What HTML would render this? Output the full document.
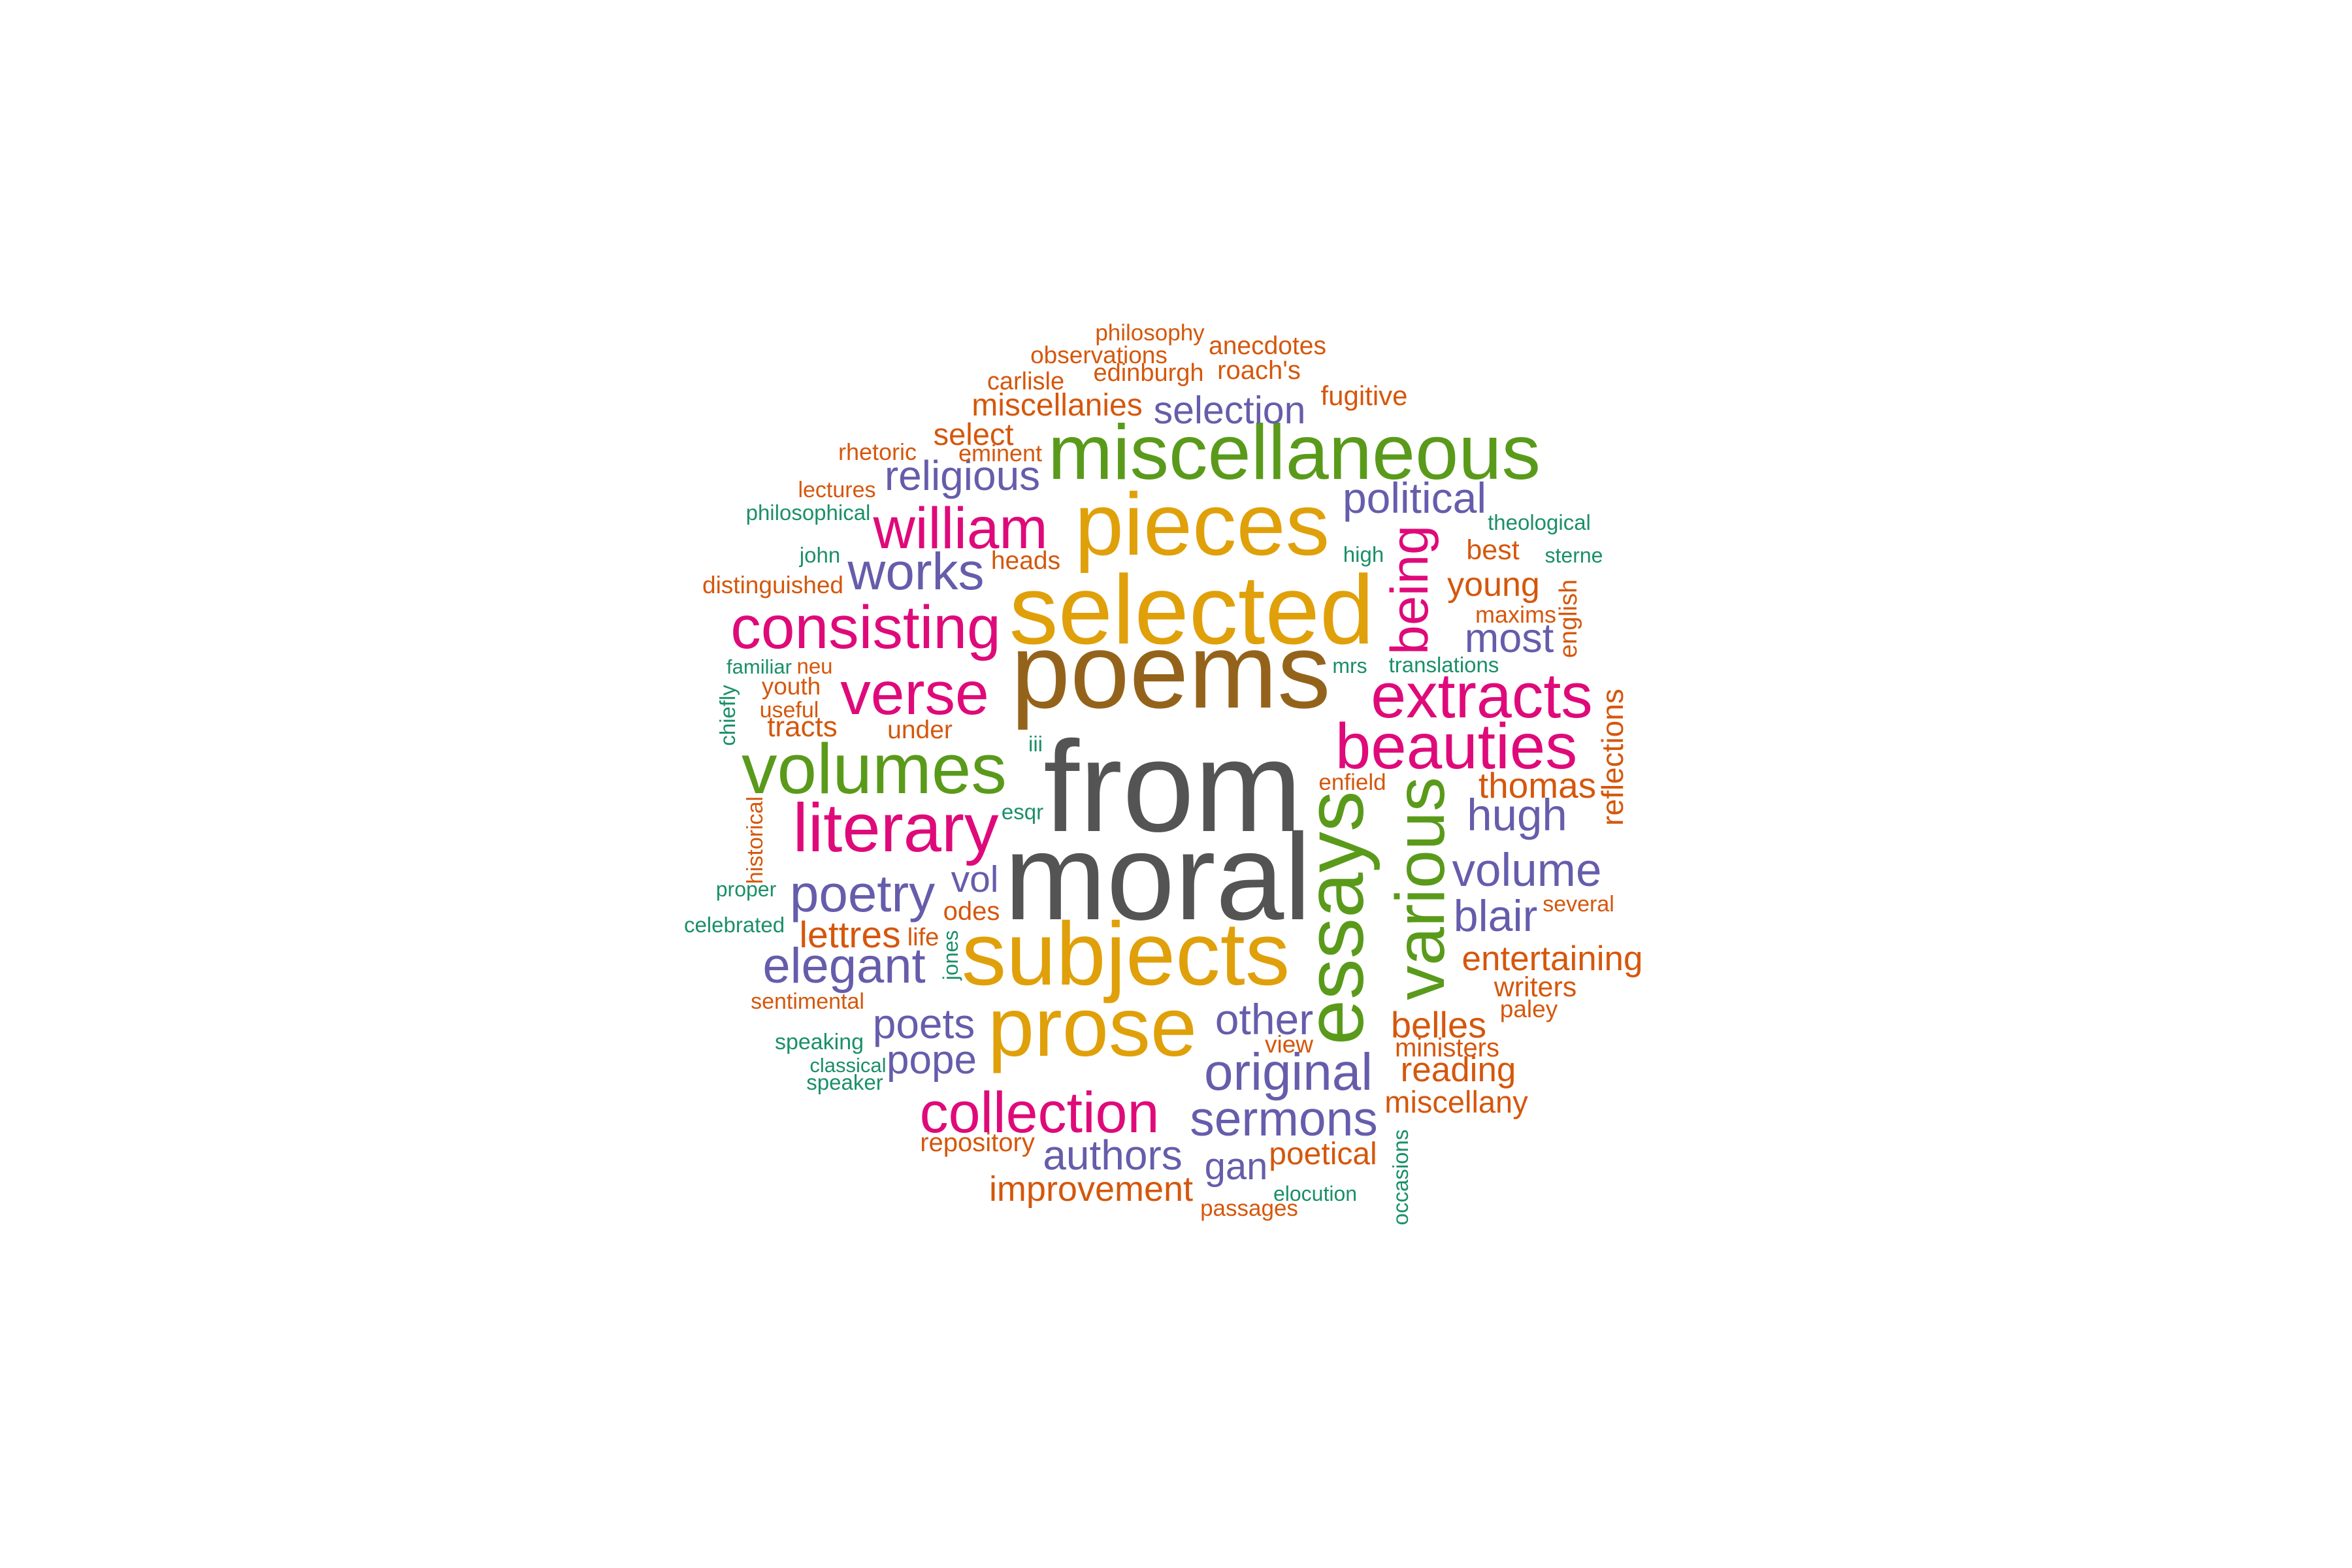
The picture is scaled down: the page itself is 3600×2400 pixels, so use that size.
<!DOCTYPE html>
<html>
<head>
<meta charset="utf-8">
<style>
  html, body { margin: 0; padding: 0; background: #ffffff; }
  #cloud { display: block; }
  text { font-family: "Liberation Sans", Arial, sans-serif; }
</style>
</head>
<body>
<svg id="cloud" width="3600" height="2400" viewBox="0 0 3600 2400" xmlns="http://www.w3.org/2000/svg">
  <rect x="0" y="0" width="3600" height="2400" fill="#ffffff"/>
  <g id="words"></g>
</svg>
<script>
// Data: words and their relative weights (font size in px at 3600x2400), colour group
const words = ["from","moral","poems","selected","pieces","miscellaneous","subjects","prose","essays","various",
"being","volumes","literary","consisting","william","verse","extracts","beauties","collection","works",
"religious","selection","political","poetry","elegant","poets","pope","vol","other","original",
"sermons","gan","authors","hugh","volume","blair","most","young","best","thomas",
"entertaining","writers","paley","several","reflections","english","maxims","theological","sterne","translations",
"mrs","high","enfield","belles","ministers","reading","miscellany","occasions","view","poetical",
"elocution","passages","improvement","repository","lettres","odes","life","jones","sentimental","speaking",
"classical","speaker","celebrated","proper","historical","esqr","iii","under","tracts","useful",
"youth","neu","familiar","chiefly","distinguished","heads","john","philosophical","lectures","rhetoric",
"eminent","select","miscellanies","carlisle","observations","philosophy","edinburgh","anecdotes","roach's","fugitive"];
const freqs = [198,188,163,150,135,119,137,128,125,106,
81,109,105,93,89,93,97,98,88,80,
64,59,66,80,76,64,62,57,66,80,
75,58,64,69,71,68,63,52,43,55,
53,43,37,34,46,38,36,33,32,33,
32,33,35,56,40,53,47,33,37,48,
32,35,54,40,57,40,38,32,34,34,
31,33,33,32,34,33,33,39,44,34,
37,33,31,33,37,39,33,33,34,36,
36,47,48,38,37,35,38,39,40,42];
const groups = ["K","K","B","Y","Y","G","Y","Y","G","G",
"P","G","P","P","P","P","P","P","P","U",
"U","U","U","U","U","U","U","U","U","U",
"U","U","U","U","U","U","U","O","O","O",
"O","O","O","O","O","O","O","T","T","T",
"T","T","O","O","O","O","O","T","O","O",
"T","O","O","O","O","O","O","T","O","T",
"T","T","T","T","O","T","T","O","O","O",
"O","O","T","T","O","O","T","T","O","O",
"O","O","O","O","O","O","O","O","O","O"];
const palette = {K:"#545454",B:"#94631b",Y:"#e0a00a",G:"#5a9a1b",P:"#df0a7a",U:"#655dab",O:"#d5570c",T:"#1b8f68"};

// Layout (word-cloud placement): centre x, baseline y, rotation
const layoutX = [1795,1772,1792,1824,1840,1981,1723,1672,2086,2210,
2185,1338,1371,1325,1470,1400,2268,2229,1591,1402,
1473,1882,2165,1320,1292,1414,1426,1492,1935,1972,
1965,1892,1703,2322,2337,2289,2310,2286,2285,2353,
2376,2350,2340,2416,2484,2413,2320,2356,2409,2210,
2066,2087,2070,2202,2215,2232,2229,2155,1973,2025,
2013,1912,1670,1496,1301,1487,1413,1466,1236,1254,
1298,1293,1124,1142,1167,1565,1585,1408,1228,1208,
1211,1247,1162,1125,1183,1570,1255,1237,1281,1343,
1531,1490,1618,1570,1682,1760,1758,1940,1927,2088];
const layoutY = [1272,1407,1083,985,849,733,1507,1616,1405,1360,
903,1214,1303,992,839,1093,1098,1176,1733,902,
750,648,785,1395,1504,1589,1643,1365,1583,1668,
1738,1805,1790,1271,1356,1425,998,912,856,1221,
1485,1525,1557,1395,1159,947,953,811,861,1029,
1030,860,1209,1588,1617,1655,1703,1802,1611,1782,
1838,1861,1838,1762,1450,1408,1447,1462,1544,1606,
1641,1668,1427,1372,1286,1254,1150,1130,1127,1098,
1063,1031,1031,1095,908,871,861,796,761,704,
706,681,636,596,556,521,583,542,580,620];
const rotated = ["essays","various","being","reflections","english","occasions","jones","historical","chiefly"];

function fontSize(f) { return f; }

const g = document.getElementById('words');
const NS = 'http://www.w3.org/2000/svg';
for (let i = 0; i < words.length; i++) {
  const t = document.createElementNS(NS, 'text');
  t.textContent = words[i];
  t.setAttribute('font-size', fontSize(freqs[i]));
  t.setAttribute('fill', palette[groups[i]]);
  t.setAttribute('text-anchor', 'middle');
  if (rotated.indexOf(words[i]) >= 0) {
    t.setAttribute('x', 0);
    t.setAttribute('y', 0);
    t.setAttribute('transform', 'translate(' + layoutX[i] + ',' + layoutY[i] + ') rotate(-90)');
  } else {
    t.setAttribute('x', layoutX[i]);
    t.setAttribute('y', layoutY[i]);
  }
  
  
  g.appendChild(t);
}
</script>
</body>
</html>
